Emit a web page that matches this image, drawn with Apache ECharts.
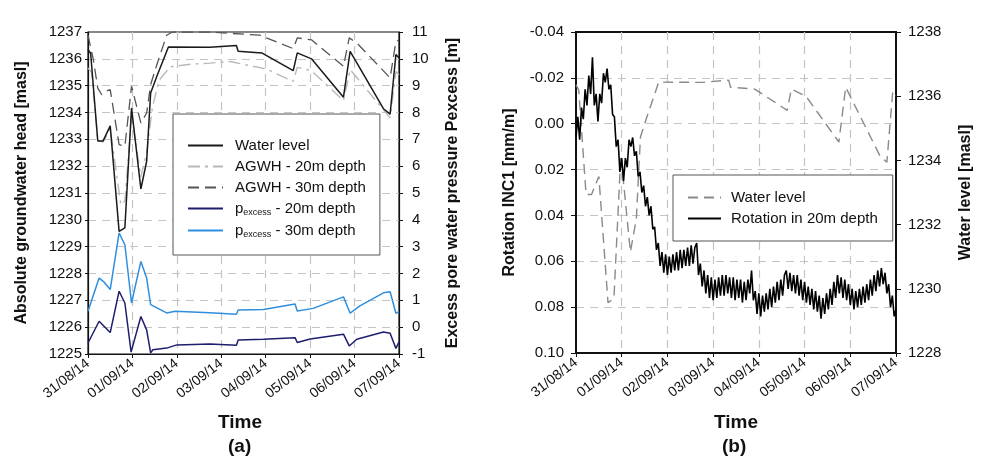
<!DOCTYPE html>
<html>
<head>
<meta charset="utf-8">
<script src="https://cdn.jsdelivr.net/npm/echarts@6/dist/echarts.min.js"></script>
<style>html,body{margin:0;padding:0;background:#fff;}#c{width:981px;height:463px;}</style>
</head>
<body>
<div id="c"></div>
<script>
// ---- data (x in days since 31/08/14 00:00) ----
const dateLabels = ['31/08/14','01/09/14','02/09/14','03/09/14','04/09/14','05/09/14','06/09/14','07/09/14'];

const wlDays = [0,0.06,0.22,0.34,0.50,0.70,0.83,0.98,1.19,1.32,1.41,1.55,1.81,2.74,3.34,3.38,3.91,4.62,4.71,5.03,5.75,5.90,6.65,6.80,6.93,7.0];
const wlHead = [1236.35,1236.2,1232.94,1232.94,1233.5,1229.57,1229.7,1234.17,1231.15,1232.18,1234.73,1235.35,1236.44,1236.43,1236.5,1236.28,1236.22,1235.56,1236.22,1236.0,1234.57,1236.28,1234.14,1233.94,1236.16,1236.03];

const ag20Days = [0,0.08,0.22,0.34,0.50,0.74,0.83,0.98,1.19,1.32,1.45,1.60,1.85,2.30,2.74,3.20,3.60,4.00,4.62,4.71,5.03,5.75,5.90,6.80,6.93,7.0];
const ag20Head = [1235.66,1235.5,1232.97,1232.9,1233.4,1230.56,1230.7,1233.9,1231.6,1232.5,1234.2,1235.2,1235.7,1235.8,1235.84,1235.9,1235.76,1235.63,1235.16,1235.68,1235.56,1234.44,1235.6,1233.8,1235.53,1235.41];

const ag30Days = [0,0.12,0.22,0.31,0.40,0.50,0.70,0.83,0.98,1.19,1.32,1.41,1.55,1.77,1.90,2.74,3.87,4.62,4.71,5.03,5.75,5.88,6.05,6.80,6.93,7.0];
const ag30Head = [1236.88,1235.97,1234.91,1234.66,1234.79,1234.85,1232.8,1232.74,1234.98,1233.61,1233.98,1235.04,1235.78,1236.88,1237.0,1237.0,1236.88,1236.38,1236.78,1236.71,1235.72,1236.78,1236.59,1235.29,1236.65,1236.7];

const p20Days = [0,0.03,0.25,0.50,0.70,0.83,0.97,1.19,1.32,1.41,1.46,1.77,2.00,2.74,3.34,3.38,3.95,4.66,4.71,5.00,5.75,5.88,6.05,6.65,6.80,6.93,7.0];
const p20Vals = [-0.59,-0.59,0.22,-0.2,1.34,0.90,-0.93,0.4,-0.1,-0.96,-0.84,-0.78,-0.66,-0.63,-0.67,-0.48,-0.45,-0.39,-0.57,-0.44,-0.26,-0.70,-0.45,-0.18,-0.23,-0.79,-0.55];

const p30Days = [0,0.03,0.25,0.35,0.50,0.70,0.83,0.98,1.19,1.32,1.41,1.77,1.96,2.74,3.34,3.38,3.95,4.66,4.71,5.07,5.75,5.90,6.12,6.65,6.80,6.93,7.0];
const p30Vals = [0.59,0.59,1.83,1.7,1.40,3.51,3.07,0.9,2.45,1.83,0.84,0.53,0.59,0.54,0.48,0.64,0.66,0.86,0.6,0.7,1.13,0.52,0.79,1.28,1.32,0.52,0.58];

// rotation in 20 m depth, sampled every rotStep days from rotStart
const rotStart = 0;
const rotStep = 0.04;
const rotVals = [0.006,-0.003,0.007,-0.007,-0.002,-0.015,-0.008,-0.021,-0.013,-0.029,
-0.008,-0.013,-0.001,-0.013,-0.009,-0.022,-0.018,-0.024,-0.015,-0.017,
-0.004,-0.003,0.010,0.007,0.021,0.015,0.025,0.015,0.019,0.007,
0.010,0.006,0.014,0.012,0.023,0.021,0.030,0.027,0.036,0.032,
0.040,0.036,0.046,0.045,0.055,0.052,0.062,0.056,0.065,0.057,
0.066,0.058,0.065,0.057,0.064,0.056,0.064,0.055,0.063,0.055,
0.062,0.054,0.062,0.053,0.061,0.054,0.052,0.066,0.061,0.071,
0.064,0.074,0.066,0.076,0.067,0.077,0.068,0.076,0.067,0.075,
0.066,0.075,0.066,0.074,0.067,0.076,0.067,0.077,0.068,0.076,
0.068,0.078,0.069,0.077,0.068,0.074,0.064,0.077,0.073,0.083,
0.074,0.084,0.075,0.082,0.074,0.081,0.072,0.080,0.071,0.078,
0.069,0.077,0.068,0.075,0.066,0.064,0.072,0.065,0.073,0.066,
0.074,0.066,0.075,0.068,0.077,0.069,0.078,0.071,0.079,0.072,
0.081,0.073,0.082,0.075,0.085,0.076,0.083,0.074,0.081,0.072,
0.079,0.069,0.076,0.066,0.074,0.067,0.076,0.068,0.077,0.070,
0.079,0.072,0.081,0.073,0.080,0.072,0.079,0.071,0.078,0.070,
0.077,0.068,0.075,0.066,0.073,0.064,0.071,0.063,0.070,0.065,
0.074,0.070,0.080,0.075,0.084,0.081];

// ---- chart ----
const FONT = 'Liberation Sans, Arial, sans-serif';
const pair = (xs, ys) => xs.map((x, i) => [x, ys[i]]);
const rotData = rotVals.map((v, i) => [rotStart + i * rotStep, v]);

const gridLine = {show: true, showMinLine: false, showMaxLine: false, lineStyle: {color: '#c4c4c4', width: 1.2, type: [8, 6]}};
function xAx(gi) {
  return {
    type: 'value', gridIndex: gi, min: 0, max: 7, interval: 1,
    axisLine: {show: true, onZero: false, lineStyle: {color: '#111', width: gi ? 2 : 1.2}},
    axisTick: {show: true, length: 4, lineStyle: {color: '#111'}},
    splitLine: gridLine,
    axisLabel: {rotate: 38, margin: 8, fontSize: 14, color: '#111', fontFamily: FONT,
      showMaxLabel: true, showMinLabel: true,
      formatter: v => dateLabels[Math.round(v)] || ''}
  };
}
const nameStyle = {fontSize: 16, fontWeight: 'bold', color: '#111', fontFamily: FONT};
const lblStyle = {fontSize: 15, color: '#111', fontFamily: FONT};
const plain = v => String(v);
const legendItem = {color: 'transparent', borderWidth: 0, opacity: 0};

const option = {
  animation: false,
  backgroundColor: '#fff',
  textStyle: {fontFamily: FONT},
  grid: [
    {left: 88, top: 32, width: 311, height: 322, show: true, borderColor: '#111', borderWidth: 1.2},
    {left: 576, top: 32, width: 320, height: 321, show: true, borderColor: '#111', borderWidth: 2}
  ],
  xAxis: [xAx(0), xAx(1)],
  yAxis: [
    {type: 'value', gridIndex: 0, position: 'left', min: 1225, max: 1237, interval: 1,
      name: 'Absolute groundwater head [masl]', nameLocation: 'middle', nameGap: 58, nameRotate: 90, nameTextStyle: nameStyle,
      axisLine: {show: true, lineStyle: {color: '#111', width: 1.2}},
      axisTick: {show: true, length: 3, lineStyle: {color: '#111'}},
      axisLabel: Object.assign({margin: 6, formatter: plain}, lblStyle),
      splitLine: gridLine},
    {type: 'value', gridIndex: 0, position: 'right', min: -1, max: 11, interval: 1,
      name: 'Excess pore water pressure Pexcess [m]', nameLocation: 'middle', nameGap: 46, nameRotate: 90, nameTextStyle: nameStyle,
      axisLine: {show: true, lineStyle: {color: '#111', width: 1.2}},
      axisTick: {show: true, length: 4, lineStyle: {color: '#111'}},
      axisLabel: Object.assign({margin: 13, formatter: plain}, lblStyle),
      splitLine: {show: false}},
    {type: 'value', gridIndex: 1, position: 'left', inverse: true, min: -0.04, max: 0.10, interval: 0.02,
      name: 'Rotation INC1 [mm/m]', nameLocation: 'middle', nameGap: 58, nameRotate: 90, nameTextStyle: nameStyle,
      axisLine: {show: true, lineStyle: {color: '#111', width: 2}},
      axisTick: {show: true, length: 5, lineStyle: {color: '#111'}},
      axisLabel: Object.assign({margin: 12, formatter: v => (Math.abs(v) < 1e-9 ? 0 : v).toFixed(2)}, lblStyle),
      splitLine: gridLine},
    {type: 'value', gridIndex: 1, position: 'right', min: 1228, max: 1238, interval: 2,
      name: 'Water level [masl]', nameLocation: 'middle', nameGap: 62, nameRotate: 90, nameTextStyle: nameStyle,
      axisLine: {show: true, lineStyle: {color: '#111', width: 2}},
      axisTick: {show: true, length: 5, lineStyle: {color: '#111'}},
      axisLabel: Object.assign({margin: 12, formatter: plain}, lblStyle),
      splitLine: {show: false}}
  ],
  legend: [
    {left: 173, top: 114, orient: 'vertical', selectedMode: false,
      backgroundColor: '#fff', borderColor: '#555', borderWidth: 1,
      padding: [24, 14, 16, 14], itemGap: 6, itemWidth: 35, itemHeight: 14,
      itemStyle: legendItem,
      data: ['Water level', 'AGWH - 20m depth', 'AGWH - 30m depth', 'p_excess - 20m depth', 'p_excess - 30m depth'],
      formatter: n => n.indexOf('p_excess') === 0 ? '{n|p}{s|excess}{n|' + n.slice(8) + '}' : '{n|' + n + '}',
      textStyle: {color: '#111', fontSize: 15, fontFamily: FONT, padding: [0, 0, 0, 7],
        rich: {n: {fontSize: 15, color: '#111', fontFamily: FONT},
               s: {fontSize: 9, color: '#111', fontFamily: FONT, padding: [8, 0, 0, 0]}}}},
    {left: 673, top: 175, orient: 'vertical', selectedMode: false,
      backgroundColor: '#fff', borderColor: '#555', borderWidth: 1,
      padding: [15, 15, 15, 14], itemGap: 6, itemWidth: 33, itemHeight: 14,
      itemStyle: legendItem,
      data: ['Water level ', 'Rotation in 20m depth'],
      textStyle: {color: '#111', fontSize: 15, fontFamily: FONT, padding: [0, 0, 0, 5]}}
  ],
  series: [
    {name: 'AGWH - 20m depth', type: 'line', xAxisIndex: 0, yAxisIndex: 0, symbol: 'none',
      itemStyle: {color: '#b8b8b8'},
      lineStyle: {color: '#b8b8b8', width: 1.4, type: [12, 5, 3, 5]}, data: pair(ag20Days, ag20Head)},
    {name: 'AGWH - 30m depth', type: 'line', xAxisIndex: 0, yAxisIndex: 0, symbol: 'none',
      itemStyle: {color: '#555'},
      lineStyle: {color: '#555', width: 1.3, type: [11, 6]}, data: pair(ag30Days, ag30Head)},
    {name: 'p_excess - 20m depth', type: 'line', xAxisIndex: 0, yAxisIndex: 1, symbol: 'none',
      itemStyle: {color: '#1e1e6e'},
      lineStyle: {color: '#1e1e6e', width: 1.5}, data: pair(p20Days, p20Vals)},
    {name: 'p_excess - 30m depth', type: 'line', xAxisIndex: 0, yAxisIndex: 1, symbol: 'none',
      itemStyle: {color: '#2f8fdf'},
      lineStyle: {color: '#2f8fdf', width: 1.5}, data: pair(p30Days, p30Vals)},
    {name: 'Water level', type: 'line', xAxisIndex: 0, yAxisIndex: 0, symbol: 'none',
      itemStyle: {color: '#1a1a1a'},
      lineStyle: {color: '#1a1a1a', width: 1.5}, data: pair(wlDays, wlHead)},
    {name: 'Water level ', type: 'line', xAxisIndex: 1, yAxisIndex: 3, symbol: 'none',
      itemStyle: {color: '#8a8a8a'},
      lineStyle: {color: '#8a8a8a', width: 1.4, type: [10, 6]}, data: pair(wlDays, wlHead)},
    {name: 'Rotation in 20m depth', type: 'line', xAxisIndex: 1, yAxisIndex: 2, symbol: 'none',
      itemStyle: {color: '#000'},
      lineStyle: {color: '#000', width: 1.6}, data: rotData}
  ],
  graphic: [
    {type: 'text', left: 240 - 22, top: 413, style: {text: 'Time', font: 'bold 19px ' + FONT, fill: '#111'}},
    {type: 'text', left: 241 - 13, top: 437, style: {text: '(a)', font: 'bold 19px ' + FONT, fill: '#111'}},
    {type: 'text', left: 736 - 22, top: 413, style: {text: 'Time', font: 'bold 19px ' + FONT, fill: '#111'}},
    {type: 'text', left: 735 - 13, top: 437, style: {text: '(b)', font: 'bold 19px ' + FONT, fill: '#111'}}
  ]
};
echarts.init(document.getElementById('c')).setOption(option);
</script>
</body>
</html>
